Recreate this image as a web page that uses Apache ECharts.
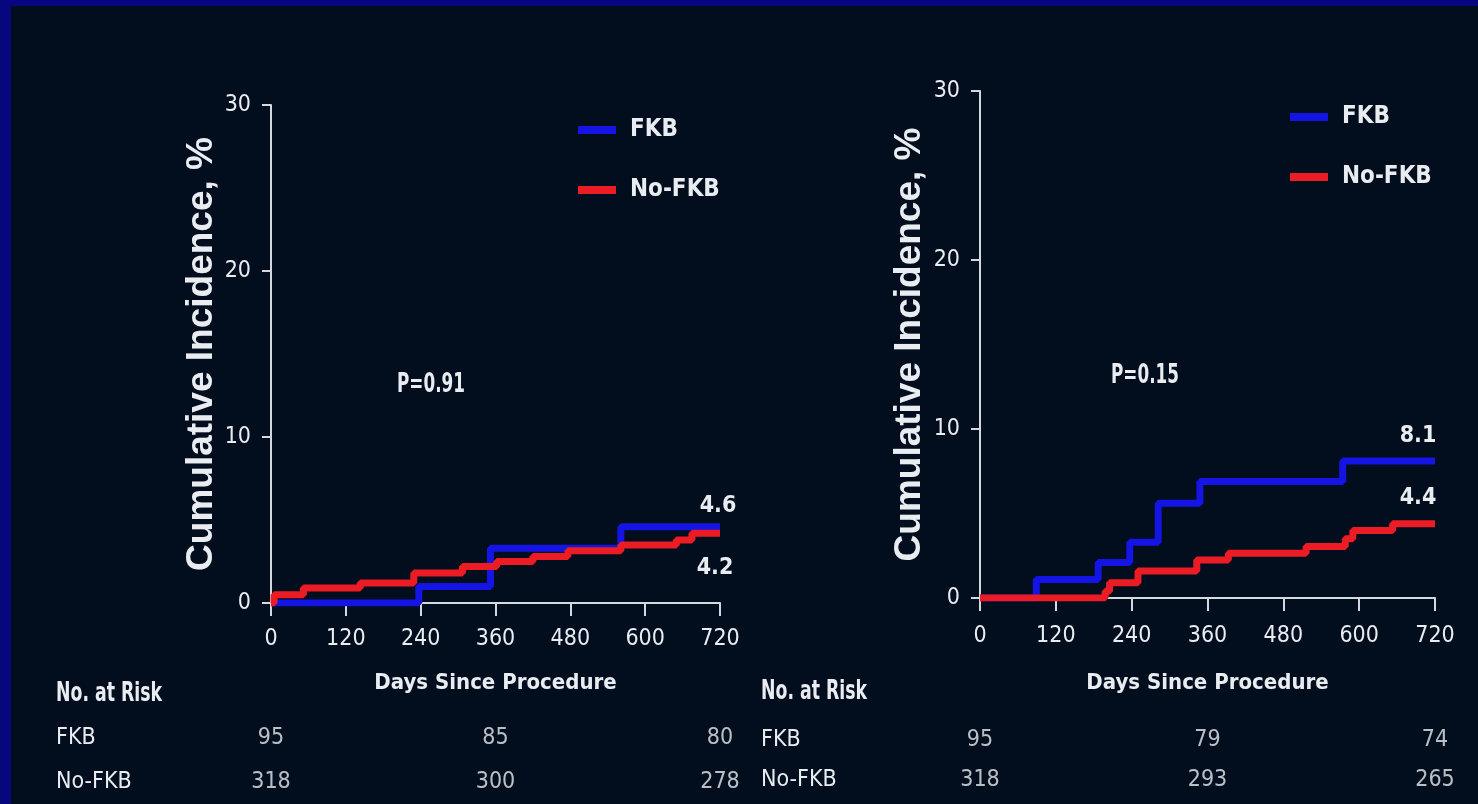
<!DOCTYPE html>
<html>
<head>
<meta charset="utf-8">
<script src="https://cdn.jsdelivr.net/npm/echarts@6/dist/echarts.min.js"></script>
<style>
  html, body { margin: 0; padding: 0; background: #020d1d; }
  #wrap { position: relative; width: 1478px; height: 804px; overflow: hidden; }
  #chart { position: absolute; left: 0; top: 0; width: 1478px; height: 804px; }
  .edge { position: absolute; background: #06067e; }
</style>
</head>
<body>
<div id="wrap">
  <div id="chart"></div>
  <div class="edge" style="left:0;top:0;width:1478px;height:6px"></div>
  <div class="edge" style="left:0;top:0;width:11px;height:804px"></div>
</div>
<script>
// ---- data ----
const groups = ['FKB', 'No-FKB'];

// cumulative incidence (%) step curves: [day, value after event]
const leftFKB  = [[0, 0], [237, 1.0], [352, 3.3], [561, 4.6], [720, 4.6]];
const leftNo   = [[0, 0], [5, 0.5], [52, 0.9], [143, 1.2], [229, 1.8], [307, 2.2],
                  [362, 2.5], [420, 2.8], [476, 3.15], [561, 3.5], [650, 3.8], [675, 4.2], [720, 4.2]];
const rightFKB = [[0, 0], [89, 1.1], [187, 2.1], [237, 3.3], [282, 5.6], [348, 6.9], [574, 8.1], [720, 8.1]];
const rightNo  = [[0, 0], [198, 0.4], [205, 0.9], [250, 1.6], [343, 2.25], [393, 2.65],
                  [516, 3.05], [578, 3.5], [590, 4.0], [653, 4.4], [720, 4.4]];

// number at risk
const riskDays     = [0, 360, 720];
const leftRiskFKB  = [95, 85, 80];
const leftRiskNo   = [318, 300, 278];
const rightRiskFKB = [95, 79, 74];
const rightRiskNo  = [318, 293, 265];

const pValues = ['P=0.91', 'P=0.15'];

// ---- styling ----
const NARROW = "'DejaVu Sans Condensed','DejaVu Sans',sans-serif";
const SANS = "'Liberation Sans',Arial,sans-serif";
const TXT = '#e9ecf1';
const AXIS = '#d4d9e0';
const BLUE = '#1414e4';
const RED = '#ec1c24';

const narrow = (size, bold) => ({ fontWeight: bold ? 'bold' : 'normal', fontSize: size, fontFamily: NARROW });

const panels = [
  { grid: { left: 271, top: 105, width: 449, height: 498 },
    table: { left: 271, top: 716, width: 449, height: 88 },
    rowLabelX: 56, fkb: leftFKB, no: leftNo, riskFKB: leftRiskFKB, riskNo: leftRiskNo,
    labelOffsets: [[-2, -21], [-5, 35]], nameGapY: 68, nameGapX: 80, labelMargin: 25,
    legend: { left: 573, top: 113 }, p: { x: 397, y: 385 }, risk: { x: 56, y: 694 } },
  { grid: { left: 980, top: 91, width: 455, height: 507 },
    table: { left: 980, top: 720, width: 455, height: 80 },
    rowLabelX: 761, fkb: rightFKB, no: rightNo, riskFKB: rightRiskFKB, riskNo: rightRiskNo,
    labelOffsets: [[-17, -25], [-17, -26]], nameGapY: 70, nameGapX: 85, labelMargin: 27,
    legend: { left: 1285, top: 100 }, p: { x: 1111, y: 376 }, risk: { x: 761, y: 692 } }
];

const grid = [], xAxis = [], yAxis = [], series = [], legend = [], graphic = [];

panels.forEach((pnl, i) => {
  const g = grid.length;
  grid.push(Object.assign({ containLabel: false }, pnl.grid));
  xAxis.push({
    gridIndex: g, type: 'value', min: 0, max: 720, interval: 120,
    name: 'Days Since Procedure', nameLocation: 'middle', nameGap: pnl.nameGapX,
    nameTextStyle: Object.assign({ color: TXT, verticalAlign: 'middle' }, narrow(22, true)),
    axisLine: { show: true, onZero: false, lineStyle: { color: AXIS, width: 2 } },
    axisTick: { show: true, length: 13, lineStyle: { color: AXIS, width: 2 } },
    axisLabel: Object.assign({ color: TXT, margin: pnl.labelMargin }, narrow(23)),
    splitLine: { show: false }
  });
  yAxis.push({
    gridIndex: g, type: 'value', min: 0, max: 30, interval: 10,
    name: 'Cumulative Incidence, %', nameLocation: 'middle', nameGap: pnl.nameGapY, nameRotate: 90,
    nameTextStyle: { color: TXT, fontFamily: SANS, fontWeight: 'bold', fontSize: 37, verticalAlign: 'middle' },
    axisLine: { show: true, lineStyle: { color: AXIS, width: 2 } },
    axisTick: { show: true, length: 9, lineStyle: { color: AXIS, width: 2 } },
    axisLabel: Object.assign({ color: TXT, margin: 20 }, narrow(23)),
    splitLine: { show: false }
  });

  const curves = [[groups[0], pnl.fkb, BLUE], [groups[1], pnl.no, RED]];
  curves.forEach(([name, data, color], k) => {
    series.push({
      type: 'line', name, xAxisIndex: g, yAxisIndex: g, data, step: 'end',
      symbol: 'none', color, silent: true, z: 3 + k,
      lineStyle: { color, width: 7 },
      endLabel: Object.assign({
        show: true, distance: 0, offset: pnl.labelOffsets[k],
        align: 'center', verticalAlign: 'middle',
        formatter: p => Number(p.value[1]).toFixed(1),
        color: TXT
      }, narrow(23, true))
    });
  });

  legend.push({
    data: groups, orient: 'vertical', left: pnl.legend.left, top: pnl.legend.top,
    icon: 'rect', itemWidth: 38, itemHeight: 8, itemGap: 36, selectedMode: false,
    textStyle: Object.assign({ color: TXT, padding: [0, 0, 0, 9] }, narrow(24, true))
  });

  // number-at-risk table, placed on the same day scale as the plot above it
  const t = grid.length;
  grid.push(Object.assign({ containLabel: false }, pnl.table));
  xAxis.push({ gridIndex: t, type: 'value', min: 0, max: 720, show: false });
  yAxis.push({
    gridIndex: t, type: 'category', data: groups, inverse: true,
    axisLine: { show: false }, axisTick: { show: false }, splitLine: { show: false },
    axisLabel: Object.assign({ align: 'left', margin: pnl.table.left - pnl.rowLabelX, color: TXT }, narrow(23))
  });
  [[groups[0], pnl.riskFKB], [groups[1], pnl.riskNo]].forEach(([row, counts]) => {
    series.push({
      type: 'scatter', name: 'at risk ' + row, xAxisIndex: t, yAxisIndex: t, silent: true,
      symbolSize: 1, itemStyle: { color: 'rgba(0,0,0,0)' },
      data: counts.map((n, j) => [riskDays[j], row, n]),
      label: Object.assign({
        show: true, position: 'inside', formatter: p => String(p.value[2]), color: TXT
      }, narrow(23))
    });
  });

  graphic.push({
    type: 'text', x: pnl.p.x, y: pnl.p.y, scaleX: 0.72,
    style: { text: pValues[i], fill: TXT, font: "bold 26px " + NARROW,
             align: 'left', verticalAlign: 'middle', textAlign: 'left', textVerticalAlign: 'middle' }
  });
  graphic.push({
    type: 'text', x: pnl.risk.x, y: pnl.risk.y, scaleX: 0.74,
    style: { text: 'No. at Risk', fill: TXT, font: "bold 26px " + NARROW,
             align: 'left', verticalAlign: 'middle', textAlign: 'left', textVerticalAlign: 'middle' }
  });
});

const chart = echarts.init(document.getElementById('chart'), null, { renderer: 'canvas' });
chart.setOption({
  backgroundColor: '#020d1d',
  animation: false,
  grid, xAxis, yAxis, series, legend, graphic
});
</script>
</body>
</html>
